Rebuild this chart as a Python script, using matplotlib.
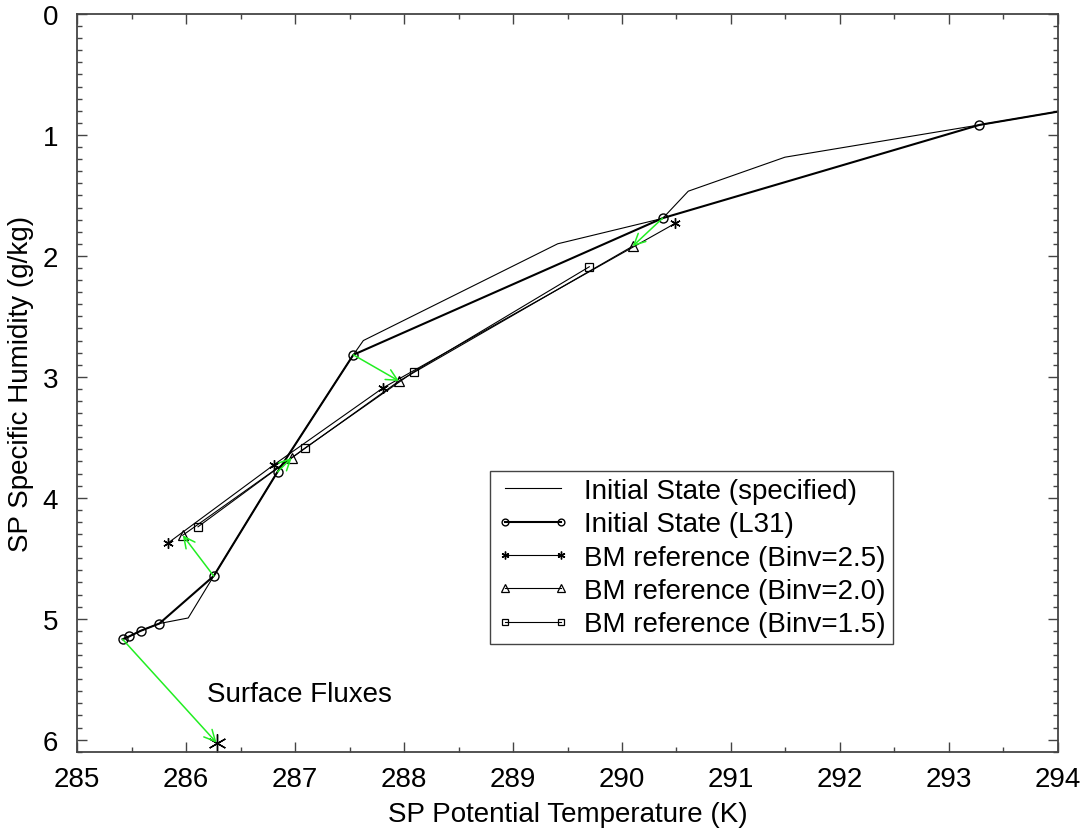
import matplotlib
matplotlib.use("Agg")
import matplotlib.pyplot as plt
from matplotlib.ticker import MultipleLocator

plt.rcParams['font.family'] = ['Liberation Sans', 'DejaVu Sans']

# Specified initial profile (potential temperature K, specific humidity g/kg)
spec_theta = [285.418, 285.48, 285.584, 285.755, 286.02, 286.254, 286.84,
              287.535, 287.627, 289.41, 290.373, 290.608, 291.495, 293.28, 294.0]
spec_q = [5.17, 5.146, 5.10, 5.04, 4.994, 4.647, 3.785,
          2.818, 2.70, 1.90, 1.69, 1.465, 1.184, 0.917, 0.807]

# Initial state on the L31 levels
l31_theta = [285.418, 285.48, 285.584, 285.755, 286.254, 286.84, 287.535,
             290.373, 293.28, 294.0]
l31_q = [5.17, 5.146, 5.10, 5.04, 4.647, 3.785, 2.818, 1.688, 0.917, 0.807]

# Betts-Miller reference profiles
bm25_theta = [285.838, 286.81, 287.81, 290.49]
bm25_q = [4.372, 3.725, 3.09, 1.73]
bm20_theta = [285.97, 286.97, 287.954, 290.098]
bm20_q = [4.31, 3.67, 3.035, 1.92]
bm15_theta = [286.11, 287.09, 288.094, 289.70]
bm15_q = [4.24, 3.59, 2.956, 2.09]

# Surface flux adjustment of the lowest level
sfc_start = (285.418, 5.17)
sfc_end = (286.28, 6.025)

labels = ['Initial State (specified)', 'Initial State (L31)',
          'BM reference (Binv=2.5)', 'BM reference (Binv=2.0)',
          'BM reference (Binv=1.5)']

fig = plt.figure(figsize=(10.88, 8.29), dpi=100)
ax = fig.add_axes([0.0708, 0.092, 0.9016, 0.8899])

FS = 20
arrow_col = '#22ee22'

ax.plot(spec_theta, spec_q, color='black', lw=0.8, label=labels[0])
ax.plot(l31_theta, l31_q, color='black', lw=1.5, marker='o', ms=6.5,
        mfc='none', mec='black', mew=1.0, markevery=slice(0, len(l31_q) - 1),
        label=labels[1])
ax.plot(bm25_theta, bm25_q, color='black', lw=0.8, marker=(6, 2, 0), ms=7.5,
        mew=1.0, label=labels[2])
ax.plot(bm20_theta, bm20_q, color='black', lw=0.8, marker='^', ms=7,
        mfc='none', mec='black', mew=0.9, label=labels[3])
ax.plot(bm15_theta, bm15_q, color='black', lw=0.8, marker='s', ms=6,
        mfc='none', mec='black', mew=0.9, label=labels[4])

# Green arrows: initial level state -> Binv=2.0 reference
for k in range(4):
    src = (l31_theta[4 + k], l31_q[4 + k])
    dst = (bm20_theta[k], bm20_q[k])
    ax.annotate('', xy=dst, xytext=src,
                arrowprops=dict(arrowstyle='->', color=arrow_col, lw=1.1,
                                shrinkA=0, shrinkB=0, mutation_scale=20))

ax.annotate('', xy=sfc_end, xytext=sfc_start,
            arrowprops=dict(arrowstyle='->', color=arrow_col, lw=1.1,
                            shrinkA=0, shrinkB=0, mutation_scale=20))
ax.plot([sfc_end[0]], [sfc_end[1]], marker=(6, 2, 0), ms=13, mew=1.0,
        color='black', ls='none')
ax.text(286.19, 5.683, 'Surface Fluxes', fontsize=FS, ha='left', va='baseline')

ax.set_xlim(285, 294)
ax.set_ylim(6.1, 0)
ax.xaxis.set_major_locator(MultipleLocator(1))
ax.xaxis.set_minor_locator(MultipleLocator(0.5))
ax.yaxis.set_major_locator(MultipleLocator(1))
ax.yaxis.set_minor_locator(MultipleLocator(0.1))

spine_col = '#444444'
for s in ax.spines.values():
    s.set_color(spine_col)
    s.set_linewidth(1.3)
ax.tick_params(which='both', direction='in', top=True, right=True,
               color=spine_col, width=1.0, labelsize=FS)
ax.tick_params(which='major', length=7)
ax.tick_params(which='minor', length=3.5)
ax.tick_params(axis='x', which='major', pad=10)
ax.tick_params(axis='y', which='major', pad=13.5)

ax.set_xlabel('SP Potential Temperature (K)', fontsize=FS, labelpad=7)
ax.set_ylabel('SP Specific Humidity (g/kg)', fontsize=FS, labelpad=6)

leg = ax.legend(loc='upper left', bbox_to_anchor=(0.421, 0.3805),
                borderaxespad=0, fontsize=FS, numpoints=2, handlelength=2.6,
                handletextpad=0.54, labelspacing=0.265, borderpad=0.25,
                fancybox=False, framealpha=1, markerscale=0.75)
leg.get_frame().set_edgecolor(spine_col)
leg.get_frame().set_linewidth(1.0)

fig.savefig('out.png', dpi=100)
